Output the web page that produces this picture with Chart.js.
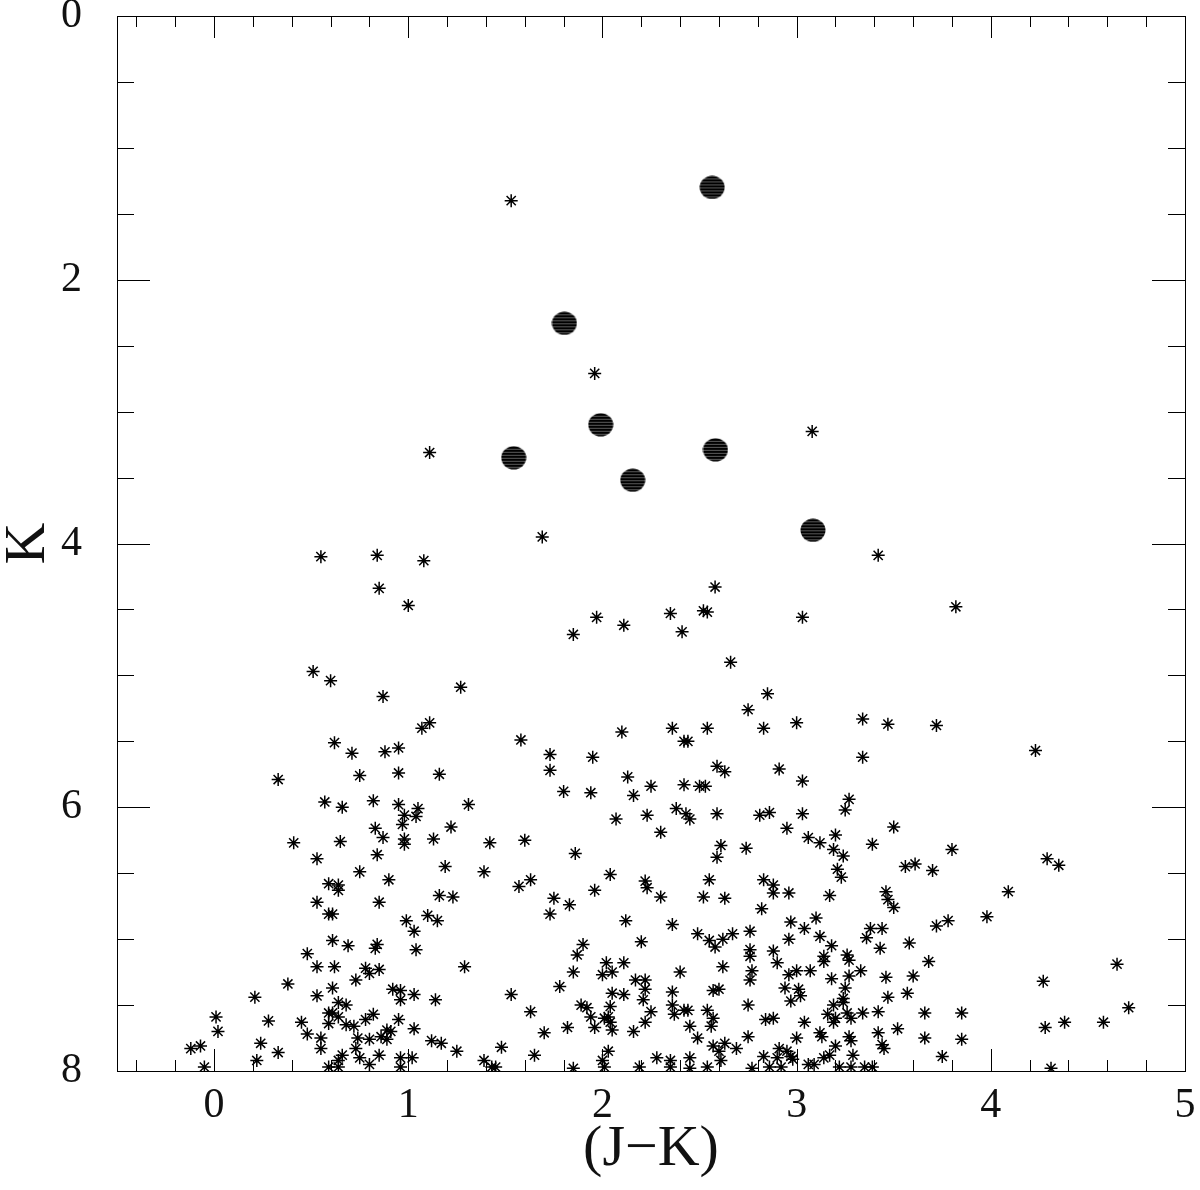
<!DOCTYPE html>
<html>
<head>
<meta charset="utf-8">
<script src="https://cdn.jsdelivr.net/npm/chart.js@4.4.1/dist/chart.umd.min.js"></script>
<style>
  html, body { margin: 0; padding: 0; background: #fff; }
  #wrap { width: 1200px; height: 1190px; }
</style>
</head>
<body>
<div id="wrap"><canvas id="cmd" width="1200" height="1190"></canvas></div>
<script>
// Diagrama color-magnitud K vs (J-K)

// estrellas de campo (asteriscos)
const jkStars = [
  1.53, 1.96, 3.08, 1.11, 1.69, 0.55, 0.84, 1.08, 3.42, 0.85, 1.00, 2.58, 3.82, 1.97, 3.03, 2.35, 2.52, 2.54, 2.11, 1.85, 2.41, 2.66, 0.51, 0.60, 1.27, 0.87,
  0.62, 0.71, 0.88, 0.33, 0.75, 0.57, 0.66, 0.82, 0.83, 0.87, 0.41, 0.65, 0.53, 0.84, 0.75,
  1.11, 1.07, 0.95, 1.58, 1.73, 1.73, 1.95, 2.10, 2.13, 2.16, 2.25, 0.95, 1.16, 1.80, 1.94, 0.95, 1.05, 0.98, 1.04, 1.31, 0.97, 1.22, 0.98, 0.98, 1.13, 1.42, 1.60, 2.07, 2.23, 1.86, 1.19, 1.39, 2.04,
  2.85, 2.75, 2.36, 2.54, 2.83, 3.00, 3.34, 3.47, 2.42, 2.44, 3.34, 2.59, 2.63, 2.91, 3.03, 2.42, 2.50, 2.53, 2.38, 2.43, 2.45, 2.59, 2.81, 2.86, 3.03, 3.27, 3.25, 2.30, 2.95, 3.06, 3.12, 3.20, 3.19, 3.24, 3.50, 3.39, 2.61, 2.59, 2.74, 3.21, 3.23, 3.56, 3.61,
  3.72, 4.23, 3.80, 3.70, 4.29, 4.35,
  0.59, 0.64, 0.64, 0.53, 0.85, 0.59, 0.61, 0.61, 0.69, 0.84, 0.83, 0.48, 0.53, 0.62, 0.78, 0.80, 0.85, 0.73, 0.38, 0.53, 0.61, 0.21, 0.01, 0.02, -0.12, -0.07, -0.05, 0.28, 0.45, 0.48, 0.24, 0.33, 0.22,
  0.59, 0.64, 0.68, 0.61, 0.64, 0.59, 0.68, 0.72, 0.82, 0.78, 0.55, 0.55, 0.74, 0.80, 0.86, 0.73, 0.75, 0.85, 0.66, 0.64, 0.80, 0.59, 0.64,
  0.90, 1.63, 1.57, 2.22, 2.23, 1.16, 1.23, 1.75, 1.83, 1.96, 1.73, 2.12, 0.99, 1.10, 1.15, 1.03, 1.04, 1.29, 1.90, 1.87, 1.85, 1.78, 2.20, 2.02, 2.11, 2.00, 2.05, 2.17, 2.22, 2.22, 2.21, 2.05, 2.11,
  2.04, 1.89, 1.92, 1.94, 2.01, 2.03, 2.04, 1.96, 2.05, 2.16, 2.22, 2.25, 0.92, 0.96, 0.96, 1.03, 1.14, 1.53, 1.63, 0.95, 0.89, 0.91, 0.89, 1.03, 1.12, 1.17, 1.25, 1.48, 1.70, 1.82, 2.03, 2.00, 2.01,
  0.96, 1.02, 0.96, 1.39, 1.43, 1.45, 1.65, 1.85, 2.19,
  2.55, 2.83, 2.88, 2.88, 2.96, 3.17, 3.46, 3.47, 3.50, 2.30, 2.52, 2.63, 2.82, 2.36, 2.49, 2.55, 2.58, 2.62, 2.67, 2.76, 2.76, 2.76, 2.97, 3.04, 3.10, 3.12, 2.96, 2.88, 2.90, 3.18, 3.14, 3.14, 3.26, 3.27,
  3.38, 3.36, 3.44, 3.43, 3.58, 2.40, 2.62, 2.77, 2.76, 2.96, 3.00, 3.07, 3.18, 3.27, 3.33, 3.46, 3.60, 2.36, 2.57, 2.60, 2.94, 3.01, 3.02, 2.97, 3.25, 3.24, 3.24, 3.47, 3.57,
  2.36, 2.37, 2.42, 2.44, 2.54, 2.57, 2.56, 2.45, 2.75, 2.49, 3.19, 3.16, 3.20, 3.19, 3.26, 3.28, 3.34, 3.42, 3.04, 2.84, 2.88, 3.52, 3.42, 2.75, 3.00, 3.12, 3.13, 3.20, 3.27, 3.28, 3.44, 3.45,
  2.57, 2.60, 2.63, 2.69, 2.61, 2.45, 2.35, 2.35, 2.28, 2.45, 2.54, 2.83, 2.91, 2.95, 2.97, 2.98, 2.90, 2.77, 2.86, 2.92, 3.06, 3.09, 3.14, 3.17, 3.29, 3.22, 3.28, 3.35, 3.39,
  4.09, 3.72, 3.78, 3.98, 3.68, 4.27, 4.65, 3.66, 3.85, 4.28, 4.38, 4.58, 4.71, 3.66, 3.85, 3.75, 4.31
];
const kStars = [
  1.40, 2.71, 3.15, 3.31, 3.95, 4.10, 4.09, 4.13, 4.09, 4.34, 4.47, 4.33, 4.48, 4.56, 4.56, 4.53, 4.51, 4.52, 4.62, 4.69, 4.67, 4.90, 4.97, 5.04, 5.09, 5.16,
  5.51, 5.59, 5.58, 5.79, 5.76, 5.96, 6.00, 5.95, 6.16, 6.23, 6.27, 6.26, 6.39, 6.36, 6.49,
  5.36, 5.40, 5.55, 5.49, 5.60, 5.72, 5.62, 5.43, 5.77, 5.91, 5.84, 5.74, 5.75, 5.88, 5.89, 5.98, 6.01, 6.06, 6.07, 5.98, 6.13, 6.15, 6.24, 6.28, 6.24, 6.27, 6.25, 6.09, 6.06, 6.35, 6.45, 6.49, 6.51,
  5.14, 5.26, 5.40, 5.40, 5.40, 5.36, 5.33, 5.37, 5.50, 5.50, 5.62, 5.69, 5.73, 5.71, 5.80, 5.83, 5.84, 5.84, 6.01, 6.05, 6.09, 6.05, 6.06, 6.04, 6.05, 5.94, 6.02, 6.19, 6.16, 6.23, 6.27, 6.21, 6.32, 6.37, 6.15, 6.28, 6.29, 6.38, 6.31, 6.47, 6.53, 6.45, 6.43,
  5.38, 5.57, 6.32, 6.48, 6.39, 6.44,
  6.58, 6.59, 6.63, 6.72, 6.72, 6.81, 6.81, 7.01, 7.05, 7.04, 7.07, 7.11, 7.21, 7.21, 7.22, 7.26, 7.23, 7.31, 7.34, 7.43, 7.37, 7.44, 7.59, 7.70, 7.83, 7.81, 7.97, 7.62, 7.63, 7.72, 7.79, 7.86, 7.92,
  7.56, 7.48, 7.50, 7.56, 7.59, 7.64, 7.65, 7.66, 7.57, 7.61, 7.75, 7.83, 7.75, 7.76, 7.74, 7.83, 7.90, 7.88, 7.88, 7.92, 7.95, 7.97, 7.97,
  6.55, 6.55, 6.60, 6.56, 6.61, 6.67, 6.68, 6.69, 6.74, 6.63, 6.81, 6.86, 6.86, 6.82, 6.86, 6.94, 7.08, 7.21, 7.04, 7.12, 7.25, 7.36, 7.02, 7.18, 7.18, 7.27, 7.25, 7.31, 7.31, 7.38, 7.46, 7.41, 7.42,
  7.51, 7.50, 7.52, 7.59, 7.60, 7.59, 7.63, 7.67, 7.69, 7.70, 7.63, 7.55, 7.38, 7.39, 7.46, 7.42, 7.46, 7.42, 7.55, 7.61, 7.69, 7.70, 7.76, 7.68, 7.77, 7.79, 7.85, 7.82, 7.71, 7.67, 7.85, 7.92, 7.97,
  7.90, 7.90, 7.97, 7.92, 7.97, 7.97, 7.88, 7.98, 7.97,
  6.55, 6.55, 6.59, 6.65, 6.65, 6.67, 6.64, 6.70, 6.76, 6.68, 6.68, 6.69, 6.77, 6.89, 6.96, 7.01, 7.06, 7.00, 6.96, 6.94, 7.08, 7.13, 6.87, 6.92, 6.84, 6.98, 7.00, 7.09, 7.18, 7.05, 7.13, 7.17, 7.12, 7.16,
  6.92, 6.99, 6.92, 7.07, 7.03, 7.25, 7.21, 7.24, 7.31, 7.27, 7.24, 7.24, 7.30, 7.28, 7.24, 7.29, 7.28, 7.40, 7.39, 7.38, 7.37, 7.38, 7.43, 7.47, 7.37, 7.45, 7.48, 7.44, 7.41,
  7.50, 7.57, 7.54, 7.54, 7.54, 7.60, 7.66, 7.66, 7.50, 7.75, 7.50, 7.57, 7.60, 7.63, 7.56, 7.60, 7.56, 7.55, 7.63, 7.61, 7.60, 7.68, 7.71, 7.74, 7.75, 7.71, 7.74, 7.81, 7.74, 7.77, 7.80, 7.83,
  7.81, 7.85, 7.79, 7.83, 7.92, 7.90, 7.92, 7.97, 7.90, 7.98, 7.97, 7.89, 7.83, 7.85, 7.89, 7.91, 7.90, 7.98, 7.97, 7.97, 7.95, 7.95, 7.90, 7.88, 7.88, 7.97, 7.97, 7.97, 7.97,
  6.64, 6.90, 6.86, 6.83, 7.17, 7.32, 7.19, 7.56, 7.56, 7.67, 7.63, 7.63, 7.52, 7.75, 7.76, 7.89, 7.98
];

// estrellas brillantes (circulos rellenos)
const jkBright = [2.565, 1.804, 1.991, 1.543, 2.582, 2.156, 3.084];
const kBright  = [1.30, 2.33, 3.10, 3.35, 3.29, 3.52, 3.90];

// etiquetas de ejes
const xTickLabels = [0, 1, 2, 3, 4, 5];
const yTickLabels = [0, 2, 4, 6, 8];

const serif = '"Liberation Serif", "DejaVu Serif", serif';

// circulo negro con rayado horizontal
function makeDot() {
  const c = document.createElement('canvas');
  c.width = 26; c.height = 24;
  const g = c.getContext('2d');
  g.fillStyle = '#000';
  g.beginPath();
  g.ellipse(13, 12, 12.5, 11.5, 0, 0, Math.PI * 2);
  g.fill();
  g.globalCompositeOperation = 'source-atop';
  g.strokeStyle = 'rgba(255,255,255,0.45)';
  g.lineWidth = 0.8;
  for (let yy = 3; yy < 23; yy += 3) {
    g.beginPath(); g.moveTo(0, yy + 0.5); g.lineTo(26, yy + 0.5); g.stroke();
  }
  return c;
}

// marco y marcas hacia adentro en los cuatro lados
const frameTicks = {
  id: 'frameTicks',
  afterDatasetsDraw(chart) {
    const { ctx, chartArea: a, scales: { x, y } } = chart;
    ctx.save();
    ctx.strokeStyle = '#000';
    ctx.lineWidth = 1;
    const seg = (x1, y1, x2, y2) => { ctx.beginPath(); ctx.moveTo(x1, y1); ctx.lineTo(x2, y2); ctx.stroke(); };
    for (let i = -2; i <= 25; i++) {
      const px = Math.round(x.getPixelForValue(i / 5)) + 0.5;
      const len = i % 5 === 0 ? 22 : 11;
      seg(px, a.bottom, px, a.bottom - len);
      seg(px, a.top, px, a.top + len);
    }
    for (let j = 0; j <= 16; j++) {
      const py = Math.round(y.getPixelForValue(j / 2)) + 0.5;
      const len = j % 4 === 0 ? 33 : 17;
      seg(a.left, py, a.left + len, py);
      seg(a.right, py, a.right - len, py);
    }
    ctx.strokeRect(Math.round(a.left) + 0.5, Math.round(a.top) + 0.5, Math.round(a.right - a.left), Math.round(a.bottom - a.top));
    ctx.restore();
  }
};

const ctx = document.getElementById('cmd').getContext('2d');
new Chart(ctx, {
  type: 'scatter',
  data: {
    datasets: [
      {
        label: 'estrellas',
        data: jkStars.map((v, i) => ({ x: v, y: kStars[i] })),
        pointStyle: 'star',
        pointRadius: 6.5,
        borderWidth: 1.5,
        borderColor: '#000',
        backgroundColor: '#000',
        clip: 0
      },
      {
        label: 'brillantes',
        data: jkBright.map((v, i) => ({ x: v, y: kBright[i] })),
        pointStyle: makeDot(),
        pointRadius: 12,
        clip: 0
      }
    ]
  },
  options: {
    responsive: false,
    animation: false,
    events: [],
    layout: { padding: { top: 16, right: 15, left: 0, bottom: 0 } },
    plugins: { legend: { display: false }, tooltip: { enabled: false } },
    scales: {
      x: {
        type: 'linear',
        min: -0.5,
        max: 5,
        grid: { display: false },
        border: { display: false },
        afterBuildTicks: s => { s.ticks = xTickLabels.map(v => ({ value: v })); },
        afterFit: s => { s.height = 119; s.paddingLeft = 0; s.paddingRight = 0; },
        ticks: { color: '#111', font: { family: serif, size: 42 }, padding: 2, maxRotation: 0 },
        title: {
          display: true,
          text: '(J\u2212K)',
          color: '#111',
          font: { family: serif, size: 58, lineHeight: 1 },
          padding: { top: 0, bottom: 11 }
        }
      },
      y: {
        type: 'linear',
        reverse: true,
        min: 0,
        max: 8,
        grid: { display: false },
        border: { display: false },
        afterBuildTicks: s => { s.ticks = yTickLabels.map(v => ({ value: v })); },
        afterFit: s => { s.width = 117; s.paddingTop = 0; s.paddingBottom = 0; },
        ticks: { color: '#111', font: { family: serif, size: 42 }, padding: 27 },
        title: {
          display: true,
          text: 'K',
          color: '#111',
          font: { family: serif, size: 58, lineHeight: 1 },
          padding: { top: 0, bottom: 0 }
        }
      }
    }
  },
  plugins: [frameTicks]
});
</script>
</body>
</html>
